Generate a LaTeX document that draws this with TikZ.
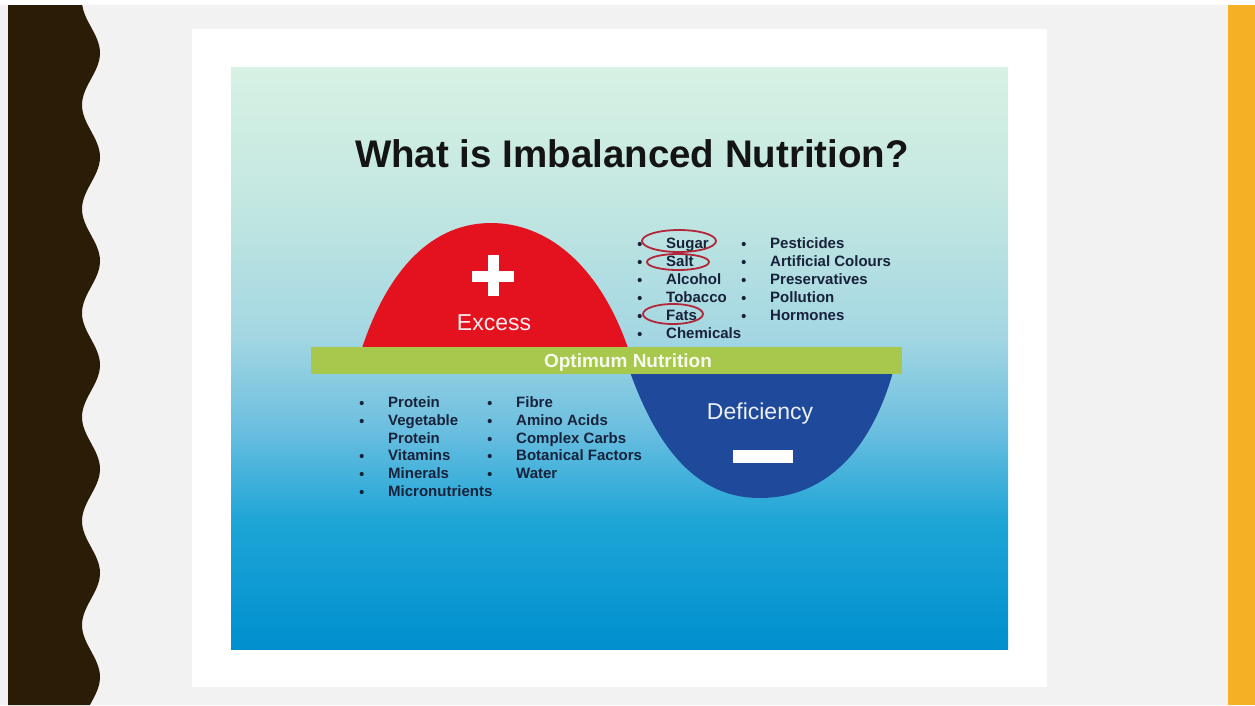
\documentclass[tikz,border=0pt]{standalone}
\usepackage{fontspec}
\setmainfont{Liberation Sans}
\usepackage{xcolor}
\definecolor{pagegray}{HTML}{F2F2F2}
\definecolor{darkband}{HTML}{2B1C05}
\definecolor{orangeband}{HTML}{F5B026}
\definecolor{excessred}{HTML}{E3121E}
\definecolor{deficblue}{HTML}{1F4A9B}
\definecolor{optgreen}{HTML}{A7C84D}
\definecolor{ringred}{HTML}{B3263A}
\definecolor{listink}{HTML}{18223A}
\definecolor{titleink}{HTML}{141414}
\definecolor{bgtop}{HTML}{D7F1E4}
\definecolor{bga}{HTML}{C4E8E1}
\definecolor{bgb}{HTML}{A4D7E2}
\definecolor{bgc}{HTML}{6CBFE0}
\definecolor{bgd}{HTML}{1DA5D6}
\definecolor{bgbot}{HTML}{0090CF}
\pgfdeclareverticalshading{slidebg}{100bp}{color(0bp)=(bgbot); color(25bp)=(bgbot); color(36bp)=(bgd); color(44bp)=(bgc); color(52bp)=(bgb); color(64bp)=(bga); color(75bp)=(bgtop); color(100bp)=(bgtop)}

\begin{document}
\begin{tikzpicture}[x=1pt,y=-1pt,
  txt/.style={anchor=base west,inner sep=0pt,text height=11pt,text depth=3pt,
    font=\fontsize{15}{17}\selectfont\bfseries,text=listink},
  bul/.style={circle,fill=listink,inner sep=0pt,minimum size=4.2pt},
  item/.style={txt,label={[bul,xshift=-24pt]left:{}}},
  ring/.style={draw=ringred,line width=1.8pt},
  sign/.style={fill=white,draw=none}]
\useasboundingbox (0,0) rectangle (1255,705);
% page, side bands and card
\fill[pagegray] (0,5) rectangle (1255,705);
\fill[darkband] (8,5) -- plot[domain=5:705,samples=140,smooth] ({91+9*cos(3.4615*(\x-53))},\x) -- (8,705) -- cycle;
\fill[orangeband] (1228,5) rectangle (1255,705);
\fill[white] (192,29) rectangle (1047,687);
\shade[shading=slidebg] (231,67) rectangle (1008,649);

\node[anchor=base,font=\fontsize{38.5}{44}\selectfont\bfseries,text=titleink] (title) at (632,167) {What is Imbalanced Nutrition?};

% excess hump, deficiency bowl, optimum bar
\fill[excessred] (362,348) .. controls (392,258) and (440,223) .. (491,223)
  .. controls (545,223) and (598,262) .. (628,348) -- cycle;
\fill[deficblue] (630,372) .. controls (665,470) and (712,498) .. (760,498)
  .. controls (818,498) and (868,460) .. (893,372) -- cycle;
\fill[optgreen] (311,347) rectangle (902,374);
\node[anchor=base,font=\fontsize{19}{21}\selectfont\bfseries,text=white!90!optgreen] (optimum) at (628,367) {Optimum Nutrition};

\fill[sign] (472,271) rectangle (514,282);
\fill[sign] (488,255) rectangle (499,296);
\node[anchor=base,font=\fontsize{23}{26}\selectfont,text=white!92!excessred] (excess) at (494,330) {Excess};
\node[anchor=base,font=\fontsize{23}{26}\selectfont,text=white!92!deficblue] (deficiency) at (760,419) {Deficiency};
\fill[sign] (733,450) rectangle (793,463);

% too much of
\node[item] (sugar) at (666,248) {Sugar};
\node[item] (salt) at (666,266) {Salt};
\node[item] (alcohol) at (666,284) {Alcohol};
\node[item] (tobacco) at (666,302) {Tobacco};
\node[item] (fats) at (666,320) {Fats};
\node[item] (chemicals) at (666,338) {Chemicals};
\node[item] (pesticides) at (770,248) {Pesticides};
\node[item] (colours) at (770,266) {Artificial Colours};
\node[item] (preservatives) at (770,284) {Preservatives};
\node[item] (pollution) at (770,302) {Pollution};
\node[item] (hormones) at (770,320) {Hormones};
\draw[ring] (679,241) ellipse [x radius=37pt,y radius=11pt];
\draw[ring] (678,262) ellipse [x radius=31pt,y radius=8pt];
\draw[ring] (673,314) ellipse [x radius=30pt,y radius=10pt];

% too little of
\node[item] (protein) at (388,407) {Protein};
\node[item] (vegetable) at (388,425) {Vegetable};
\node[txt] (vegprotein) at (388,443) {Protein};
\node[item] (vitamins) at (388,460) {Vitamins};
\node[item] (minerals) at (388,478) {Minerals};
\node[item] (micro) at (388,496) {Micronutrients};
\node[item] (fibre) at (516,407) {Fibre};
\node[item] (amino) at (516,425) {Amino Acids};
\node[item] (carbs) at (516,443) {Complex Carbs};
\node[item] (botanical) at (516,460) {Botanical Factors};
\node[item] (water) at (516,478) {Water};
\end{tikzpicture}
\end{document}
